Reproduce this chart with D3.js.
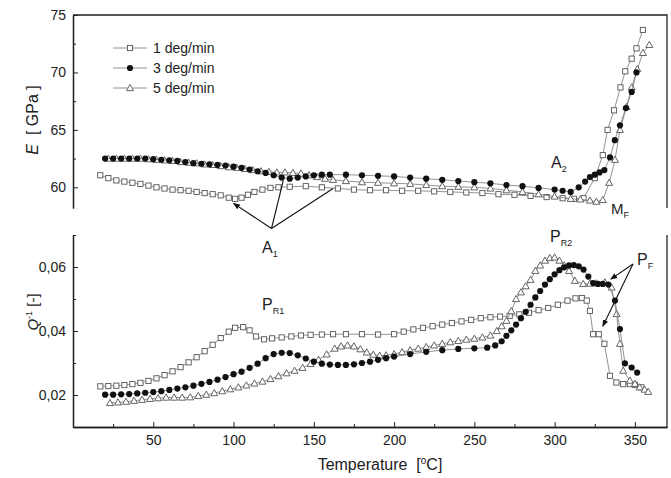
<!DOCTYPE html>
<html>
<head>
<meta charset="utf-8">
<script src="https://cdn.jsdelivr.net/npm/d3@7"></script>
<style>
  body { margin: 0; background: #fff; }
  svg { font-family: "Liberation Sans", Arial, sans-serif; }
</style>
</head>
<body>
<svg width="671" height="478"></svg>
<script>
"use strict"

// ---- данные: модуль упругости E (верхняя панель) ----
const e1Temp = [17, 22, 27, 32, 37, 42, 47, 52, 57, 62, 67, 72, 77, 82, 87, 92, 97, 101, 105, 109, 113, 118, 123, 128, 135, 145, 155, 165, 175, 185, 195, 205, 215, 225, 235, 245, 255, 265, 275, 285, 295, 305, 312, 318, 325, 330, 333, 337, 341, 344, 348, 351, 355]
const e1Vals = [61.05, 60.8, 60.6, 60.5, 60.4, 60.3, 60.15, 60.0, 59.9, 59.8, 59.75, 59.7, 59.6, 59.5, 59.4, 59.3, 59.1, 59.0, 59.1, 59.35, 59.6, 59.8, 59.95, 60.0, 60.05, 60.1, 60.0, 59.9, 59.8, 59.75, 59.75, 59.7, 59.7, 59.65, 59.6, 59.55, 59.5, 59.4, 59.35, 59.25, 59.15, 59.05, 59.0, 59.05, 60.8, 62.8, 65.0, 66.7, 68.7, 70.1, 71.2, 72.1, 73.7]

const e3Temp = [20, 25, 30, 35, 40, 45, 50, 55, 60, 65, 70, 75, 80, 85, 90, 95, 100, 105, 110, 115, 120, 125, 130, 135, 140, 145, 150, 155, 160, 170, 180, 190, 200, 210, 220, 230, 240, 250, 260, 270, 280, 290, 300, 305, 310, 315, 319, 322, 325, 328, 331, 334.5, 337.5, 340.7, 344.4, 348, 351]
const e3Vals = [62.5, 62.5, 62.5, 62.5, 62.5, 62.5, 62.45, 62.4, 62.35, 62.3, 62.2, 62.1, 62.05, 62.0, 61.95, 61.9, 61.8, 61.7, 61.55, 61.4, 61.25, 61.05, 60.85, 60.75, 60.85, 60.95, 61.05, 61.1, 61.1, 61.1, 61.05, 61.0, 60.95, 60.85, 60.75, 60.65, 60.55, 60.45, 60.35, 60.2, 60.1, 59.95, 59.8, 59.7, 59.6, 60.0, 60.5, 60.9, 61.1, 61.3, 61.5, 62.6, 64.1, 65.4, 66.9, 68.3, 70.0]

const e5Temp = [22, 27, 32, 37, 42, 47, 52, 57, 62, 67, 72, 77, 82, 87, 92, 97, 102, 107, 112, 117, 122, 127, 132, 137, 142, 147, 152, 157, 162, 170, 180, 190, 200, 210, 220, 230, 240, 250, 260, 270, 280, 290, 300, 310, 316, 322, 326, 330, 334, 337.6, 340.7, 344.8, 348, 351.5, 355, 359]
const e5Vals = [62.5, 62.5, 62.5, 62.5, 62.5, 62.45, 62.4, 62.35, 62.3, 62.2, 62.15, 62.1, 62.0, 61.95, 61.85, 61.75, 61.7, 61.6, 61.5, 61.4, 61.35, 61.3, 61.3, 61.25, 61.2, 61.05, 60.9, 60.75, 60.65, 60.55, 60.45, 60.4, 60.35, 60.3, 60.2, 60.1, 60.05, 60.0, 59.9, 59.75, 59.6, 59.4, 59.2, 59.0, 58.95, 58.85, 58.75, 58.9, 60.4, 62.4, 65.0, 67.0, 68.7, 70.3, 71.7, 72.4]

// ---- данные: внутреннее трение Q^-1 (нижняя панель) ----
const q1Temp = [17, 22, 27, 32, 37, 42, 47, 52, 57, 62, 67, 72, 77, 82, 87, 92, 97, 101, 106, 110, 114, 119, 124, 130, 136, 142, 148, 155, 162, 170, 180, 190, 200, 206, 212, 218, 224, 230, 236, 242, 248, 254, 260, 266, 272, 278, 284, 290, 296, 302, 308, 313, 317, 320, 322, 324, 327.5, 331, 334.5, 338.5, 342.7, 346.9, 350, 354]
const q1Vals = [0.0227, 0.0228, 0.0229, 0.0231, 0.0234, 0.0238, 0.0244, 0.0252, 0.0262, 0.0274, 0.0287, 0.0302, 0.0318, 0.0337, 0.0357, 0.0378, 0.0398, 0.0410, 0.0412, 0.0402, 0.0383, 0.0374, 0.0377, 0.0380, 0.0383, 0.0386, 0.0388, 0.0389, 0.0390, 0.0390, 0.0390, 0.0389, 0.0390, 0.0398, 0.0405, 0.0410, 0.0415, 0.0420, 0.0425, 0.0430, 0.0435, 0.0440, 0.0443, 0.0445, 0.0447, 0.0452, 0.0457, 0.0465, 0.0472, 0.0482, 0.0495, 0.0502, 0.0503, 0.0495, 0.0463, 0.0390, 0.0390, 0.0360, 0.0260, 0.0239, 0.0234, 0.0234, 0.0232, 0.0224]

const q3Temp = [20, 25, 30, 35, 40, 45, 50, 55, 60, 65, 70, 75, 80, 85, 90, 95, 100, 105, 110, 115, 120, 125, 130, 135, 140, 145, 150, 155, 160, 165, 170, 175, 180, 185, 190, 195, 200, 210, 220, 230, 240, 250, 258, 263, 267, 270, 273, 276, 279, 282, 285, 288, 291, 294, 297, 300, 303, 306, 309, 312, 315, 318, 321, 324, 327, 330, 333.5, 337.6, 340.7, 343.8, 348, 351.4]
const q3Vals = [0.0201, 0.0201, 0.0202, 0.0203, 0.0205, 0.0207, 0.0209, 0.0212, 0.0216, 0.0220, 0.0224, 0.0229, 0.0235, 0.0241, 0.0248, 0.0256, 0.0265, 0.0273, 0.0285, 0.0298, 0.0315, 0.0328, 0.0332, 0.0331, 0.0324, 0.0314, 0.0304, 0.0298, 0.0295, 0.0294, 0.0294, 0.0296, 0.0300, 0.0304, 0.0310, 0.0315, 0.0320, 0.0328, 0.0335, 0.0340, 0.0344, 0.0346, 0.0348, 0.0355, 0.0368, 0.0385, 0.0402, 0.0420, 0.0440, 0.0460, 0.0482, 0.0505, 0.0525, 0.0545, 0.0562, 0.0577, 0.0590, 0.0599, 0.0605, 0.0606, 0.0602, 0.0592, 0.0570, 0.0550, 0.0547, 0.0547, 0.0545, 0.0495, 0.0406, 0.0299, 0.0286, 0.0270]

const q5Temp = [23, 28, 33, 38, 43, 48, 53, 58, 63, 68, 73, 78, 83, 88, 93, 98, 103, 108, 113, 118, 123, 128, 133, 138, 143, 148, 153, 158, 163, 167, 171, 175, 179, 183, 187, 191, 195, 200, 205, 210, 215, 220, 225, 230, 235, 240, 245, 250, 255, 260, 264, 267, 270, 273, 276, 279, 282, 285, 288, 291, 294, 297, 300, 303, 306, 309, 312.6, 317.8, 322, 326, 331.3, 335.5, 338.6, 340.7, 342.7, 346.9, 350, 353, 356, 358.3]
const q5Vals = [0.0175, 0.0177, 0.0179, 0.0182, 0.0185, 0.0188, 0.0190, 0.0192, 0.0192, 0.0192, 0.0193, 0.0197, 0.0201, 0.0206, 0.0212, 0.0218, 0.0224, 0.0230, 0.0236, 0.0242, 0.0250, 0.0259, 0.0268, 0.0276, 0.0285, 0.0297, 0.0310, 0.0327, 0.0345, 0.0352, 0.0355, 0.0352, 0.0343, 0.0333, 0.0326, 0.0323, 0.0324, 0.0328, 0.0334, 0.0340, 0.0345, 0.0350, 0.0355, 0.0360, 0.0365, 0.0369, 0.0373, 0.0376, 0.0380, 0.0386, 0.0400, 0.0415, 0.0432, 0.0462, 0.0500, 0.0521, 0.0540, 0.0560, 0.0588, 0.0605, 0.0620, 0.0628, 0.0630, 0.0620, 0.0605, 0.0588, 0.0557, 0.0547, 0.0548, 0.0549, 0.0552, 0.0536, 0.0453, 0.0360, 0.0276, 0.0245, 0.0235, 0.0224, 0.0217, 0.0210]

const legendNames = ["1 deg/min", "3 deg/min", "5 deg/min"]
const markerTypes = ["square", "circle", "triangle"]

const xTicks = [50, 100, 150, 200, 250, 300, 350]
const xMinor = [25, 75, 125, 175, 225, 275, 325]
const eTicks = [60, 65, 70, 75]
const eMinor = [62.5, 67.5, 72.5]
const qTicks = [0.02, 0.04, 0.06]
const qMinor = [0.01, 0.03, 0.05, 0.07]

const svg = d3.select("svg")

// шкалы
const scX = d3.scaleLinear().domain([0, 370]).range([73, 667])
const scE = d3.scaleLinear().domain([58.2, 75]).range([208, 15])
const scQ = d3.scaleLinear().domain([0.01, 0.07]).range([427, 235])

const lineCol = "#222"

// стрелки
svg.append("defs").append("marker")
    .attr("id", "arr")
    .attr("viewBox", "0 0 10 10")
    .attr("refX", 9).attr("refY", 5)
    .attr("markerWidth", 7).attr("markerHeight", 7)
    .attr("markerUnits", "userSpaceOnUse")
    .attr("orient", "auto")
    .append("path")
    .attr("d", "M0,1 L10,5 L0,9 Z")
    .style("fill", "#111")

// ---- оси ----
function drawAxes() {
    // верхняя панель
    svg.append("g").attr("transform", `translate(${scX.range()[0]},0)`)
        .call(d3.axisLeft(scE).tickValues(eTicks).tickSize(-5).tickSizeOuter(0).tickPadding(7))
    svg.append("g").attr("transform", `translate(${scX.range()[0]},0)`)
        .call(d3.axisLeft(scE).tickValues(eMinor).tickSize(-3).tickSizeOuter(0).tickFormat(""))
    svg.append("path")
        .attr("d", `M${scX.range()[0]},${scE.range()[1]} H${scX.range()[1]} V${scE.range()[0]}`)
        .style("fill", "none").style("stroke", lineCol).style("stroke-width", 1.3)

    // нижняя панель
    const fmt = d => d3.format(".2f")(d).replace(".", ",")
    svg.append("g").attr("transform", `translate(${scX.range()[0]},0)`)
        .call(d3.axisLeft(scQ).tickValues(qTicks).tickSize(-5).tickSizeOuter(0).tickPadding(7).tickFormat(fmt))
    svg.append("g").attr("transform", `translate(${scX.range()[0]},0)`)
        .call(d3.axisLeft(scQ).tickValues(qMinor).tickSize(-3).tickSizeOuter(0).tickFormat(""))
    svg.append("g").attr("transform", `translate(0,${scQ.range()[0]})`)
        .call(d3.axisBottom(scX).tickValues(xTicks).tickSize(-5).tickSizeOuter(0).tickPadding(8))
    svg.append("g").attr("transform", `translate(0,${scQ.range()[0]})`)
        .call(d3.axisBottom(scX).tickValues(xMinor).tickSize(-3).tickSizeOuter(0).tickFormat(""))
    svg.append("path")
        .attr("d", `M${scX.range()[1]},${scQ.range()[0]} V${scQ.range()[1]}`)
        .style("fill", "none").style("stroke", lineCol).style("stroke-width", 1.3)

    svg.selectAll(".domain").style("stroke", lineCol).style("stroke-width", 1.3)
    svg.selectAll(".tick line").style("stroke", lineCol)
    svg.selectAll(".tick text").style("font-size", "14px").style("fill", "#222")
        .style("font-family", "'Liberation Sans', Arial, sans-serif")

    // подписи осей
    const tx = svg.append("text")
        .attr("x", 380).attr("y", 470)
        .style("white-space", "pre")
        .style("text-anchor", "middle").style("font-size", "16px").style("fill", "#222")
    tx.append("tspan").text("Temperature  [")
    tx.append("tspan").attr("dy", -6).style("font-size", "10px").text("o")
    tx.append("tspan").attr("dy", 6).text("C]")

    const te = svg.append("text")
        .attr("transform", "translate(38,120) rotate(-90)")
        .style("white-space", "pre")
        .style("text-anchor", "middle").style("font-size", "16px").style("fill", "#222")
    te.append("tspan").style("font-style", "italic").text("E")
    te.append("tspan").text("  [ GPa ]")

    const tq = svg.append("text")
        .attr("transform", "translate(38,312) rotate(-90)")
        .style("text-anchor", "middle").style("font-size", "15px").style("fill", "#222")
    tq.append("tspan").style("font-style", "italic").text("Q")
    tq.append("tspan").attr("dy", -6).style("font-size", "9px").text("-1")
    tq.append("tspan").attr("dy", 6).text(" [-]")
}

// ---- маркеры ----
function drawMarker(g, type, cx, cy) {
    if (type == "square") {
        g.append("rect").attr("x", cx - 2.6).attr("y", cy - 2.6)
            .attr("width", 5.2).attr("height", 5.2)
            .style("fill", "#fff").style("stroke", "#555").style("stroke-width", 0.9)
    } else if (type == "circle") {
        g.append("circle").attr("cx", cx).attr("cy", cy).attr("r", 3.1)
            .style("fill", "#111")
    } else {
        g.append("path")
            .attr("d", `M${cx},${cy - 3.6} L${cx + 3.5},${cy + 2.6} L${cx - 3.5},${cy + 2.6} Z`)
            .style("fill", "#fff").style("stroke", "#555").style("stroke-width", 0.9)
    }
}

function drawSeries(temps, vals, scY, type) {
    const pts = temps.map((t, i) => [t, vals[i]])
    const line = d3.line().x(d => scX(d[0])).y(d => scY(d[1]))
    svg.append("path")
        .datum(pts)
        .attr("d", line)
        .style("fill", "none").style("stroke", "#777").style("stroke-width", 0.8)
    const g = svg.append("g")
    pts.forEach(d => drawMarker(g, type, scX(d[0]), scY(d[1])))
}

drawAxes()

drawSeries(e1Temp, e1Vals, scE, "square")
drawSeries(e5Temp, e5Vals, scE, "triangle")
drawSeries(e3Temp, e3Vals, scE, "circle")

drawSeries(q1Temp, q1Vals, scQ, "square")
drawSeries(q5Temp, q5Vals, scQ, "triangle")
drawSeries(q3Temp, q3Vals, scQ, "circle")

// ---- легенда ----
legendNames.forEach((name, i) => {
    const y = 48 + i * 20
    svg.append("line").attr("x1", 113).attr("x2", 147).attr("y1", y).attr("y2", y)
        .style("stroke", "#777").style("stroke-width", 0.8)
    drawMarker(svg.append("g"), markerTypes[i], 130, y)
    svg.append("text").attr("x", 153).attr("y", y + 5)
        .style("font-size", "14px").style("fill", "#222").text(name)
})

// ---- аннотации ----
function label(x, y, main, sub, size, subSize) {
    const t = svg.append("text").attr("x", x).attr("y", y)
        .style("font-size", size + "px").style("fill", "#222")
    t.append("tspan").text(main)
    t.append("tspan").attr("dy", 4).style("font-size", subSize + "px").text(sub)
}

label(262, 253, "A", "1", 16, 9)
label(551, 168, "A", "2", 16, 9)
label(611, 214, "M", "F", 15, 9)
label(262, 310, "P", "R1", 16, 9)
label(550, 242, "P", "R2", 16, 9)
label(637, 265, "P", "F", 16, 9)

function arrow(x0, y0, x1, y1, head) {
    svg.append("line")
        .attr("x1", x0).attr("y1", y0).attr("x2", x1).attr("y2", y1)
        .style("stroke", "#111").style("stroke-width", 1.1)
        .attr("marker-end", head ? "url(#arr)" : null)
}

// A1 — точка схождения стрелок
arrow(271.5, 228.5, scX(100), scE(58.6), true)
arrow(271.5, 228.5, scX(131), scE(60.6), false)
arrow(271.5, 228.5, scX(162), scE(59.9), false)
// P_F
arrow(633, 264, scX(335), scQ(0.0562), true)
arrow(633, 264, scX(330), scQ(0.0415), true)
</script>
</body>
</html>
